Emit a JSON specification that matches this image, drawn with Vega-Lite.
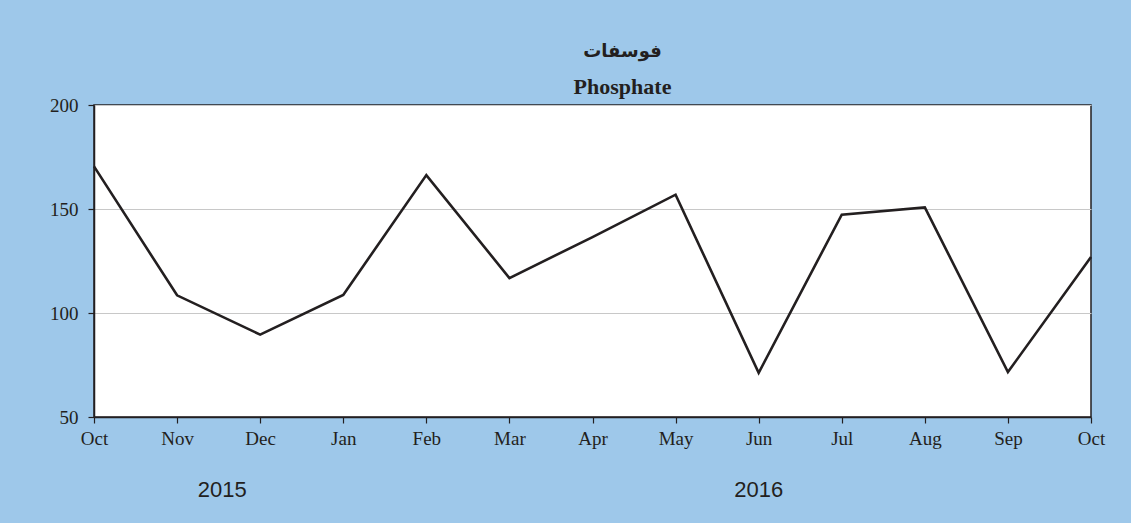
{
  "$schema": "https://vega.github.io/schema/vega-lite/v6.json",
  "autosize": "none",
  "width": 997,
  "height": 312,
  "padding": {"left": 94, "top": 105, "right": 40, "bottom": 106},
  "background": "#9ec8ea",
  "title": {
    "text": "فوسفات",
    "subtitle": "Phosphate",
    "anchor": "middle",
    "dx": 30,
    "font": "DejaVu Sans",
    "fontSize": 18,
    "fontWeight": "bold",
    "color": "#231f20",
    "subtitleFont": "Liberation Serif",
    "subtitleFontSize": 22,
    "subtitleFontWeight": "bold",
    "subtitleColor": "#231f20",
    "subtitlePadding": 16,
    "offset": -2
  },
  "config": {
    "view": {"fill": "white", "stroke": "#231f20", "strokeWidth": 1.5},
    "axis": {
      "labelFont": "Liberation Serif",
      "labelFontSize": 19,
      "labelColor": "#231f20",
      "domainColor": "#231f20",
      "domainWidth": 1.5,
      "tickColor": "#231f20",
      "tickSize": 6,
      "tickWidth": 1.2,
      "title": null
    }
  },
  "datasets": {
    "series": [
      {"key": "Oct 2015", "value": 170.5},
      {"key": "Nov 2015", "value": 108.5},
      {"key": "Dec 2015", "value": 89.6},
      {"key": "Jan 2016", "value": 108.7},
      {"key": "Feb 2016", "value": 166.3},
      {"key": "Mar 2016", "value": 116.8},
      {"key": "Apr 2016", "value": 136.5},
      {"key": "May 2016", "value": 156.9},
      {"key": "Jun 2016", "value": 71.2},
      {"key": "Jul 2016", "value": 147.3},
      {"key": "Aug 2016", "value": 150.8},
      {"key": "Sep 2016", "value": 71.6},
      {"key": "Oct 2016", "value": 126.9}
    ],
    "years": [
      {"key": "Dec 2015", "year": "2015", "pos": 15},
      {"key": "Jun 2016", "year": "2016", "pos": 15}
    ]
  },
  "layer": [
    {
      "data": {"name": "series"},
      "mark": {"type": "line", "color": "#231f20", "strokeWidth": 2.6},
      "encoding": {
        "x": {
          "field": "key",
          "type": "ordinal",
          "sort": null,
          "scale": {"type": "point", "padding": 0},
          "axis": {
            "labelAngle": 0,
            "labelExpr": "split(datum.value, ' ')[0]",
            "labelPadding": 6,
            "grid": false
          }
        },
        "y": {
          "field": "value",
          "type": "quantitative",
          "scale": {"domain": [50, 200], "nice": false, "zero": false},
          "axis": {
            "values": [50, 100, 150, 200],
            "grid": true,
            "gridColor": "#c8c8c8",
            "gridWidth": 1,
            "labelPadding": 10
          }
        }
      }
    },
    {
      "data": {"name": "years"},
      "transform": [{"filter": "datum.year == '2015'"}],
      "mark": {
        "type": "text",
        "font": "Liberation Sans",
        "fontSize": 22,
        "color": "#231f20",
        "dx": -38,
        "clip": false
      },
      "encoding": {
        "x": {"field": "key", "type": "ordinal", "sort": null},
        "y": {"field": "pos", "type": "quantitative"},
        "text": {"field": "year"}
      }
    },
    {
      "data": {"name": "years"},
      "transform": [{"filter": "datum.year == '2016'"}],
      "mark": {
        "type": "text",
        "font": "Liberation Sans",
        "fontSize": 22,
        "color": "#231f20",
        "clip": false
      },
      "encoding": {
        "x": {"field": "key", "type": "ordinal", "sort": null},
        "y": {"field": "pos", "type": "quantitative"},
        "text": {"field": "year"}
      }
    }
  ]
}
